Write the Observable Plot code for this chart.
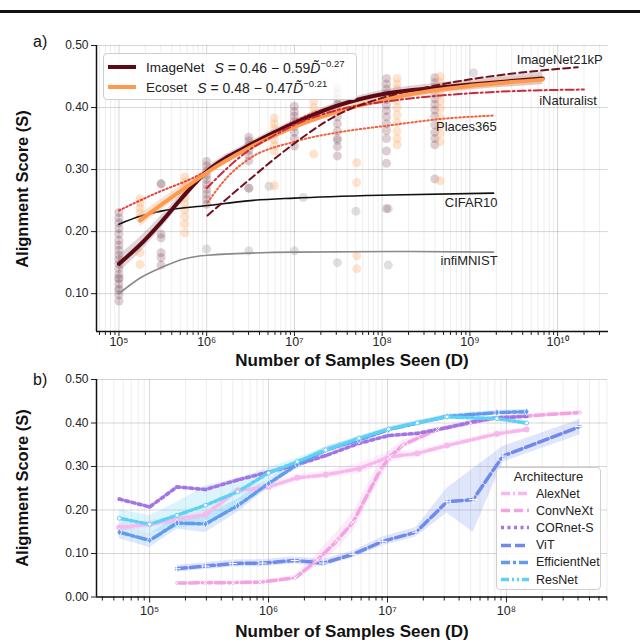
<!DOCTYPE html>
<html><head><meta charset="utf-8">
<script src="https://cdn.jsdelivr.net/npm/d3@7"></script>
<script src="https://cdn.jsdelivr.net/npm/@observablehq/plot@0.6"></script>
<style>
body{margin:0;background:#fff;font-family:"Liberation Sans",Arial,sans-serif;}
#root{position:relative;width:640px;height:644px;overflow:hidden;background:#fff;}
.abs{position:absolute;}
.ttl{font-weight:bold;font-size:17px;color:#111;white-space:nowrap;}
.panel{font-size:16px;color:#111;}
.lega{left:103px;top:53px;width:254px;height:47px;border:1px solid #cfcfcf;border-radius:4px;background:rgba(255,255,255,0.85);box-sizing:border-box;font-size:13.5px;color:#222;}
.lega .row{position:absolute;left:0;height:20px;display:flex;align-items:center;white-space:nowrap;}
.legb{left:496px;top:467px;width:105px;height:123px;border:1px solid #cfcfcf;border-radius:4px;background:rgba(255,255,255,0.85);box-sizing:border-box;font-size:12.5px;color:#222;}
.legb .row{position:absolute;left:2px;height:17px;display:flex;align-items:center;white-space:nowrap;}
sup{font-size:9.5px;}
</style></head><body><div id="root"></div>
<script>
// ---------------- Panel a data ----------------
// fitted curves (x = log10 samples seen, S = alignment score)
const imagenetFitX = [5.0, 5.25, 5.48, 5.74, 6.01, 6.47, 7.0, 7.49, 8.06, 8.63, 9.01, 9.83];
const imagenetFitS = [0.148, 0.18, 0.215, 0.258, 0.298, 0.338, 0.375, 0.403, 0.423, 0.432, 0.437, 0.447];
const imagenetBand = [0.014, 0.012, 0.01, 0.008, 0.006, 0.005, 0.005, 0.005, 0.006, 0.007, 0.008, 0.01];
const ecosetFitX = [5.24, 5.48, 5.75, 6.01, 6.47, 7.0, 7.5, 8.06, 8.6, 9.01, 9.83];
const ecosetFitS = [0.218, 0.243, 0.27, 0.296, 0.334, 0.369, 0.394, 0.414, 0.428, 0.435, 0.445];
const ecosetBand = [0.01, 0.009, 0.008, 0.006, 0.005, 0.005, 0.005, 0.005, 0.006, 0.007, 0.008];
const in21kX = [6.01, 6.48, 6.96, 7.49, 8.06, 8.63, 9.12, 9.7, 10.23];
const in21kS = [0.226, 0.283, 0.338, 0.388, 0.418, 0.436, 0.448, 0.458, 0.465];
const inatX = [6.0, 6.47, 6.73, 7.0, 7.49, 8.06, 8.63, 9.01, 9.6, 10.3];
const inatS = [0.27, 0.33, 0.352, 0.372, 0.396, 0.41, 0.419, 0.423, 0.427, 0.429];
const placesX = [6.01, 6.25, 6.47, 7.0, 7.5, 8.07, 8.7, 9.26];
const placesS = [0.247, 0.29, 0.316, 0.345, 0.36, 0.371, 0.382, 0.387];
const extraDotX = [5.0, 5.44, 5.82, 6.01, 6.5, 7.0, 7.5, 8.1];
const extraDotS = [0.234, 0.263, 0.285, 0.298, 0.338, 0.378, 0.405, 0.425];
const cifarX = [5.0, 5.25, 5.48, 6.01, 6.5, 7.0, 8.1, 9.27];
const cifarS = [0.212, 0.225, 0.233, 0.242, 0.25, 0.254, 0.259, 0.262];
const mnistX = [5.0, 5.25, 5.48, 5.74, 6.01, 7.0, 8.1, 9.27];
const mnistS = [0.10, 0.126, 0.142, 0.156, 0.162, 0.167, 0.168, 0.167];

// measured points (columns of runs)
const imagenetColX = [5.0, 5.48, 6.0, 6.48, 7.0, 7.49, 8.05, 8.6];
const imagenetColS = [
  [0.231, 0.222, 0.214, 0.205, 0.196, 0.186, 0.178, 0.17, 0.162, 0.155, 0.148, 0.14, 0.131, 0.124, 0.116, 0.108, 0.098, 0.088],
  [0.277, 0.196, 0.19, 0.166, 0.158, 0.146],
  [0.313, 0.306, 0.298, 0.291, 0.284, 0.276, 0.268, 0.26, 0.252, 0.244],
  [0.352, 0.346, 0.339, 0.331, 0.323, 0.314, 0.27],
  [0.402, 0.393, 0.386, 0.378, 0.369, 0.36, 0.35, 0.338],
  [0.432, 0.423, 0.414, 0.405, 0.396, 0.385, 0.374, 0.362, 0.35, 0.337, 0.322],
  [0.447, 0.438, 0.43, 0.422, 0.413, 0.404, 0.395, 0.385, 0.374, 0.363, 0.35, 0.33, 0.31, 0.237],
  [0.448, 0.44, 0.432, 0.423, 0.414, 0.405, 0.396, 0.386, 0.372, 0.36, 0.35, 0.34, 0.285]
];
const ecosetColX = [5.24, 5.75, 6.24, 6.77, 7.22, 7.71, 8.17, 8.66];
const ecosetColS = [
  [0.253, 0.246, 0.238, 0.23, 0.222, 0.166, 0.147],
  [0.288, 0.28, 0.272, 0.263, 0.254, 0.245, 0.235, 0.224, 0.212, 0.198],
  [0.319],
  [0.383, 0.374, 0.366, 0.357, 0.348, 0.339, 0.33, 0.274],
  [0.41, 0.4, 0.39, 0.384, 0.325],
  [0.311, 0.279, 0.161, 0.14],
  [0.447, 0.438, 0.43, 0.421, 0.411, 0.4, 0.388, 0.376, 0.362, 0.35, 0.34],
  [0.45, 0.441, 0.432, 0.422, 0.41, 0.398, 0.384, 0.37, 0.358, 0.345, 0.282]
];
const grayPtX = [5.0, 5.0, 5.48, 6.0, 6.48, 6.48, 6.71, 7.0, 7.1, 7.49, 7.49, 7.7, 8.07, 8.07, 9.04];
const grayPtS = [0.125, 0.105, 0.277, 0.172, 0.27, 0.169, 0.273, 0.169, 0.255, 0.347, 0.15, 0.233, 0.237, 0.146, 0.456];

const aXTickExp = [5, 6, 7, 8, 9, 10];
const aYTicks = [0.10, 0.20, 0.30, 0.40, 0.50];

// ---------------- Panel b data ----------------
const archNames = ["AlexNet", "ConvNeXt", "CORnet-S", "ViT", "EfficientNet", "ResNet"];
const archColors = ["#f7b8ed", "#f3a2e3", "#a274e4", "#6f8aea", "#5f9cee", "#5ed2f4"];
const archDash = ["9,3,2,3", "9,4", "3,3.5", "10,4", "9,3,3,3", "8,3,2,3,2,3"];
const alexX = [4.745, 5.0, 5.47, 5.74, 6.0, 6.24, 6.48, 6.76, 7.01, 7.25, 7.5, 7.92, 8.17];
const alexS = [0.16, 0.167, 0.19, 0.245, 0.253, 0.274, 0.281, 0.295, 0.322, 0.33, 0.348, 0.375, 0.385];
const alexW = [0.01, 0.008, 0.008, 0.008, 0.008, 0.008, 0.008, 0.012, 0.012, 0.008, 0.006, 0.006, 0.006];
const convX = [5.225, 5.468, 5.703, 5.93, 6.224, 6.41, 6.577, 6.71, 6.94, 7.02, 7.13, 7.42, 7.7, 7.92, 8.62];
const convS = [0.032, 0.033, 0.033, 0.034, 0.044, 0.085, 0.13, 0.172, 0.292, 0.322, 0.35, 0.385, 0.40, 0.412, 0.424];
const convW = [0.004, 0.004, 0.004, 0.004, 0.006, 0.015, 0.02, 0.022, 0.02, 0.015, 0.01, 0.006, 0.005, 0.005, 0.005];
const cornX = [4.745, 5.0, 5.23, 5.47, 5.74, 6.0, 6.24, 6.48, 6.76, 7.01, 7.25, 7.5, 7.72, 7.92, 8.17];
const cornS = [0.225, 0.207, 0.253, 0.247, 0.269, 0.287, 0.304, 0.325, 0.353, 0.371, 0.376, 0.389, 0.403, 0.412, 0.415];
const cornW = [0.004, 0.004, 0.004, 0.004, 0.004, 0.004, 0.004, 0.004, 0.004, 0.004, 0.004, 0.004, 0.004, 0.004, 0.004];
const vitX = [5.225, 5.47, 5.70, 5.95, 6.22, 6.46, 6.71, 6.96, 7.24, 7.5, 7.72, 7.97, 8.62];
const vitS = [0.065, 0.071, 0.077, 0.078, 0.084, 0.078, 0.098, 0.128, 0.149, 0.219, 0.224, 0.324, 0.392];
const vitLo = [0.057, 0.063, 0.069, 0.07, 0.076, 0.07, 0.09, 0.118, 0.138, 0.193, 0.149, 0.31, 0.373];
const vitHi = [0.073, 0.079, 0.085, 0.086, 0.092, 0.086, 0.106, 0.138, 0.16, 0.25, 0.295, 0.346, 0.408];
const effX = [4.745, 5.0, 5.23, 5.47, 5.74, 6.0, 6.24, 6.48, 6.76, 7.01, 7.5, 7.92, 8.17];
const effS = [0.149, 0.13, 0.17, 0.168, 0.21, 0.261, 0.304, 0.338, 0.361, 0.385, 0.415, 0.424, 0.426];
const effW = [0.015, 0.016, 0.014, 0.02, 0.015, 0.01, 0.008, 0.008, 0.006, 0.005, 0.005, 0.005, 0.005];
const resX = [4.745, 5.0, 5.23, 5.47, 5.74, 6.0, 6.24, 6.48, 6.76, 7.01, 7.25, 7.5, 7.92, 8.17];
const resS = [0.181, 0.167, 0.188, 0.211, 0.242, 0.285, 0.311, 0.338, 0.365, 0.386, 0.40, 0.414, 0.41, 0.40];
const resW = [0.02, 0.02, 0.03, 0.045, 0.03, 0.012, 0.008, 0.006, 0.005, 0.005, 0.005, 0.005, 0.005, 0.006];
const bXTickExp = [5, 6, 7, 8];
const bYTicks = [0.00, 0.10, 0.20, 0.30, 0.40, 0.50];

// ---------------- helpers ----------------
const supMap = {"0":"⁰","1":"¹","2":"²","3":"³","4":"⁴","5":"⁵","6":"⁶","7":"⁷","8":"⁸","9":"⁹"};
const fmtPow = d => "10" + String(Math.round(Math.log10(d))).split("").map(c => supMap[c]).join("");
const minorMult = [2, 3, 4, 5, 6, 7, 8, 9];
function minorTicks(lo, hi) {
  const t = [];
  for (let e = Math.floor(lo); e <= Math.ceil(hi); e++) for (const m of minorMult) { const v = m * 10 ** e; if (Math.log10(v) >= lo && Math.log10(v) <= hi) t.push(v); }
  return t;
}
const series = (X, S, W) => X.map((l, i) => ({x: 10 ** l, y: S[i], lo: W ? S[i] - W[i] : undefined, hi: W ? S[i] + W[i] : undefined}));
const cols = (CX, CS, g) => CX.flatMap((l, i) => CS[i].map(s => ({x: 10 ** l, y: s, g})));

const root = document.getElementById("root");
function place(el, left, top) { el.style.position = "absolute"; el.style.left = left + "px"; el.style.top = top + "px"; root.appendChild(el); }
function addDiv(html, cls, style) { const d = document.createElement("div"); d.className = "abs " + cls; d.innerHTML = html; d.setAttribute("style", style); root.appendChild(d); return d; }

// ---------------- header rule & panel letters ----------------
addDiv("", "", "left:0;top:10px;width:640px;height:3px;background:#111;");
addDiv("a)", "panel", "left:33px;top:33px;");
addDiv("b)", "panel", "left:33px;top:371px;");

// ---------------- Panel a ----------------
const aXDom = [4.744, 10.58];
const aMajor = aXTickExp.map(e => 10 ** e);
const aMinor = minorTicks(aXDom[0], aXDom[1]);
const axisStyle = {fontFamily: "Liberation Sans, Arial, sans-serif", fontSize: "12px", color: "#222", background: "transparent"};

const imagenetFit = series(imagenetFitX, imagenetFitS, imagenetBand);
const ecosetFit = series(ecosetFitX, ecosetFitS, ecosetBand);
const in21k = series(in21kX, in21kS);
const inat = series(inatX, inatS);
const places = series(placesX, placesS);
const extraDot = series(extraDotX, extraDotS);
const cifar = series(cifarX, cifarS);
const mnist = series(mnistX, mnistS);
const ptsImagenet = cols(imagenetColX, imagenetColS, "ImageNet");
const ptsEcoset = cols(ecosetColX, ecosetColS, "Ecoset");
const ptsGray = series(grayPtX, grayPtS);
const last = a => [a[a.length - 1]];

const plotA = Plot.plot({
  width: 640, height: 340,
  marginLeft: 96, marginRight: 32, marginTop: 15, marginBottom: 39,
  style: axisStyle,
  x: {type: "log", domain: [10 ** aXDom[0], 10 ** aXDom[1]]},
  y: {domain: [0.039, 0.50]},
  marks: [
    Plot.gridX(aMinor, {stroke: "#000", strokeOpacity: 0.07}),
    Plot.gridX(aMajor, {stroke: "#000", strokeOpacity: 0.16}),
    Plot.gridY(aYTicks, {stroke: "#000", strokeOpacity: 0.16}),
    Plot.dot(ptsGray, {x: "x", y: "y", r: 4.5, fill: "#8c8c8c", fillOpacity: 0.28}),
    Plot.dot(ptsImagenet, {x: "x", y: "y", r: 4.5, fill: "#6b2435", fillOpacity: 0.22}),
    Plot.dot(ptsEcoset, {x: "x", y: "y", r: 4.5, fill: "#fda560", fillOpacity: 0.3}),
    Plot.line(mnist, {x: "x", y: "y", stroke: "#8a8a8a", strokeWidth: 1.6, curve: "monotone-x"}),
    Plot.line(cifar, {x: "x", y: "y", stroke: "#111", strokeWidth: 1.6, curve: "monotone-x"}),
    Plot.areaY(imagenetFit, {x: "x", y1: "lo", y2: "hi", fill: "#8a6a72", fillOpacity: 0.28, curve: "monotone-x"}),
    Plot.areaY(ecosetFit, {x: "x", y1: "lo", y2: "hi", fill: "#f4b38a", fillOpacity: 0.4, curve: "monotone-x"}),
    Plot.line(places, {x: "x", y: "y", stroke: "#f2613d", strokeWidth: 2, strokeDasharray: "1.5,2.5", curve: "monotone-x"}),
    Plot.line(extraDot, {x: "x", y: "y", stroke: "#e8423a", strokeWidth: 2, strokeDasharray: "1.5,2.5", curve: "monotone-x"}),
    Plot.line(imagenetFit, {x: "x", y: "y", stroke: "#5c0915", strokeWidth: 4, curve: "monotone-x"}),
    Plot.line(ecosetFit, {x: "x", y: "y", stroke: "#fd9a4e", strokeWidth: 4, curve: "monotone-x"}),
    Plot.line(inat, {x: "x", y: "y", stroke: "#c92a3e", strokeWidth: 2, strokeDasharray: "8,3,2,3", curve: "monotone-x"}),
    Plot.line(in21k, {x: "x", y: "y", stroke: "#73101f", strokeWidth: 2, strokeDasharray: "7,4", curve: "monotone-x"}),
    Plot.text(last(in21k), {x: "x", y: "y", text: () => "ImageNet21kP", textAnchor: "end", dx: 25, dy: -7, fontSize: 13, fill: "#222"}),
    Plot.text(last(inat), {x: "x", y: "y", text: () => "iNaturalist", textAnchor: "end", dx: 13, dy: 11, fontSize: 13, fill: "#222"}),
    Plot.text(last(places), {x: "x", y: "y", text: () => "Places365", textAnchor: "end", dx: 4, dy: 11, fontSize: 13, fill: "#222"}),
    Plot.text(last(cifar), {x: "x", y: "y", text: () => "CIFAR10", textAnchor: "end", dx: 4, dy: 10, fontSize: 13, fill: "#222"}),
    Plot.text(last(mnist), {x: "x", y: "y", text: () => "infiMNIST", textAnchor: "end", dx: 4, dy: 9, fontSize: 13, fill: "#222"}),
    Plot.axisX(aMinor, {tickSize: 4, fill: "none", label: null}),
    Plot.axisX(aMajor, {tickSize: 5, tickPadding: 1, tickFormat: fmtPow, label: null, fontSize: 12.5}),
    Plot.axisY(aYTicks, {tickSize: 5, tickPadding: 3, tickFormat: d => d.toFixed(2), label: null, fontSize: 12}),
    Plot.ruleX([10 ** aXDom[0]], {stroke: "#111", strokeWidth: 1.5}),
    Plot.ruleY([0.039], {stroke: "#111", strokeWidth: 1.5})
  ]
});
place(plotA, 0, 30);

// legend a
addDiv(
  `<div class="row" style="top:3px"><svg width="36" height="20"><line x1="4" y1="10" x2="32" y2="10" stroke="#5c0915" stroke-width="4"/></svg><span style="margin-left:6px">ImageNet</span><span style="margin-left:10px;font-size:14px"><i>S</i> = 0.46 − 0.59<i>D&#771;</i><sup>−0.27</sup></span></div>
   <div class="row" style="top:23px"><svg width="36" height="20"><line x1="4" y1="10" x2="32" y2="10" stroke="#fd9a4e" stroke-width="4"/></svg><span style="margin-left:6px">Ecoset</span><span style="margin-left:10px;font-size:14px"><i>S</i> = 0.48 − 0.47<i>D&#771;</i><sup>−0.21</sup></span></div>`,
  "lega", "");

addDiv("Alignment Score (S)", "ttl", "left:22px;top:189px;transform:translate(-50%,-50%) rotate(-90deg);font-size:16.5px;");
addDiv("Number of Samples Seen (D)", "ttl", "left:352px;top:361px;transform:translate(-50%,-50%);");

// ---------------- Panel b ----------------
const bXDom = [4.553, 8.85];
const bMajor = bXTickExp.map(e => 10 ** e);
const bMinor = minorTicks(bXDom[0], bXDom[1]);
const alex = series(alexX, alexS, alexW);
const conv = series(convX, convS, convW);
const corn = series(cornX, cornS, cornW);
const vit = vitX.map((l, i) => ({x: 10 ** l, y: vitS[i], lo: vitLo[i], hi: vitHi[i]}));
const eff = series(effX, effS, effW);
const res = series(resX, resS, resW);
const archData = [alex, conv, corn, vit, eff, res];

const bandMarks = archData.map((d, i) => Plot.areaY(d, {x: "x", y1: "lo", y2: "hi", fill: archColors[i], fillOpacity: 0.22}));
const lineOrder = [3, 1, 0, 2, 4, 5];
const lineMarks = lineOrder.map(i => Plot.line(archData[i], {x: "x", y: "y", stroke: archColors[i], strokeWidth: 3.5, strokeDasharray: archDash[i]}));
const markerMarks = [
  Plot.dot(alex, {x: "x", y: "y", r: 3, fill: archColors[0]}),
  Plot.dot(conv, {x: "x", y: "y", r: 2.5, symbol: "times", stroke: "#fff", strokeWidth: 1}),
  Plot.dot(corn, {x: "x", y: "y", r: 1.8, symbol: "square", fill: archColors[2]}),
  Plot.dot(vit, {x: "x", y: "y", r: 2.8, symbol: "plus", stroke: "#fff", strokeWidth: 1}),
  Plot.dot(eff, {x: "x", y: "y", r: 2.4, symbol: "diamond", fill: archColors[4], stroke: "#fff", strokeWidth: 0.8}),
  Plot.dot(res, {x: "x", y: "y", r: 2, fill: "#fff", stroke: archColors[5], strokeWidth: 1})
];

const plotB = Plot.plot({
  width: 640, height: 274,
  marginLeft: 96, marginRight: 33, marginTop: 9, marginBottom: 47.5,
  style: axisStyle,
  x: {type: "log", domain: [10 ** bXDom[0], 10 ** bXDom[1]]},
  y: {domain: [0, 0.5]},
  marks: [
    Plot.gridX(bMinor, {stroke: "#000", strokeOpacity: 0.07}),
    Plot.gridX(bMajor, {stroke: "#000", strokeOpacity: 0.16}),
    Plot.gridY(bYTicks, {stroke: "#000", strokeOpacity: 0.16}),
    ...bandMarks,
    ...lineMarks,
    ...markerMarks,
    Plot.axisX(bMinor, {tickSize: 4, fill: "none", label: null}),
    Plot.axisX(bMajor, {tickSize: 6, tickPadding: 3, tickFormat: fmtPow, label: null, fontSize: 12.5}),
    Plot.axisY(bYTicks, {tickSize: 5, tickPadding: 3, tickFormat: d => d.toFixed(2), label: null, fontSize: 12}),
    Plot.ruleX([10 ** bXDom[0]], {stroke: "#111", strokeWidth: 1.5}),
    Plot.ruleY([0], {stroke: "#111", strokeWidth: 1.5})
  ]
});
place(plotB, 0, 370);

// legend b
let rowsB = `<div style="position:absolute;left:0;width:100%;top:1px;text-align:center;font-size:13px;">Architecture</div>`;
archNames.forEach((n, i) => {
  rowsB += `<div class="row" style="top:${17 + i * 17.2}px"><svg width="32" height="17"><line x1="2" y1="8.5" x2="30" y2="8.5" stroke="${archColors[i]}" stroke-width="3.5" stroke-dasharray="${archDash[i]}"/></svg><span style="margin-left:5px">${n}</span></div>`;
});
addDiv(rowsB, "legb", "");

addDiv("Alignment Score (S)", "ttl", "left:22px;top:488px;transform:translate(-50%,-50%) rotate(-90deg);font-size:16.5px;");
addDiv("Number of Samples Seen (D)", "ttl", "left:352px;top:632px;transform:translate(-50%,-50%);");
</script></body></html>
